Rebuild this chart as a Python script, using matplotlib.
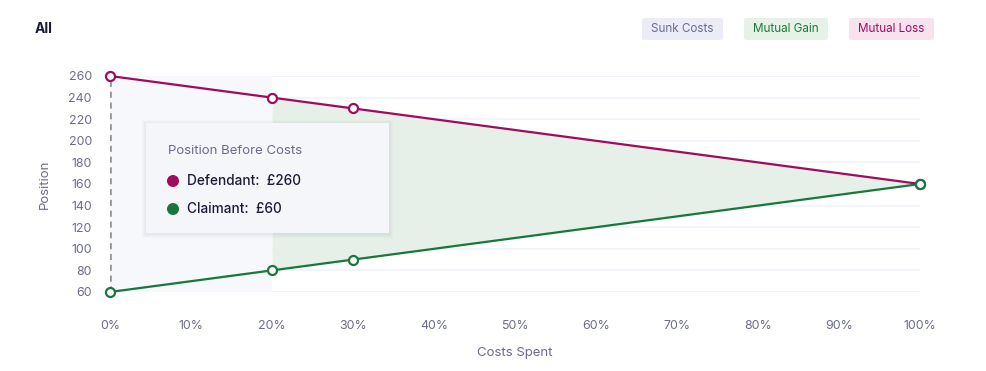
import matplotlib.pyplot as plt
from matplotlib.patches import FancyBboxPatch, Rectangle, Ellipse

plt.rcParams['font.family'] = ['Inter', 'DejaVu Sans']

# data
costs_spent = [0, 20, 30, 100]
defendant = [260, 240, 230, 160]
claimant = [60, 80, 90, 160]
y_ticks = [60, 80, 100, 120, 140, 160, 180, 200, 220, 240, 260]
x_ticks = [0, 10, 20, 30, 40, 50, 60, 70, 80, 90, 100]
sunk_end = 20
legend_items = ["Sunk Costs", "Mutual Gain", "Mutual Loss"]

W, H = 987, 371
MAGENTA = '#a10a5e'
GREEN = '#17783a'
LABEL = '#6b6b8c'
DARK = '#1c1b3a'

fig = plt.figure(figsize=(W / 100, H / 100), dpi=100)
ax = fig.add_axes([110 / W, (H - 292) / H, 810 / W, 216 / H])
ax.set_xlim(0, 100)
ax.set_ylim(60, 260)

for s in ax.spines.values():
    s.set_visible(False)
ax.set_yticks(y_ticks)
ax.set_xticks(x_ticks)
ax.set_xticklabels([f"{t}%" for t in x_ticks])
ax.tick_params(length=0, colors=LABEL, labelsize=8.9)
ax.tick_params(axis='y', pad=13)
ax.tick_params(axis='x', pad=20)
ax.grid(axis='y', color='#f1f2f8', linewidth=1.2)
ax.set_axisbelow(True)

# sunk costs block and mutual gain area
ax.add_patch(Rectangle((0, 60), sunk_end, 200, facecolor='#f7f8fb', edgecolor='none', zorder=1))
i0 = costs_spent.index(sunk_end)
ax.fill_between(costs_spent[i0:], claimant[i0:], defendant[i0:], color='#e6f0e8', linewidth=0, zorder=1)

ax.plot([0, 0], [claimant[0], defendant[0]], color='#939393', lw=1.9, ls=(0, (2.3, 1.8)), zorder=2)
ax.plot(costs_spent, defendant, color=MAGENTA, lw=1.6, marker='o', ms=6.5, mfc='white',
        mec=MAGENTA, mew=1.6, clip_on=False, zorder=3)
ax.plot(costs_spent, claimant, color=GREEN, lw=1.6, marker='o', ms=6.5, mfc='white',
        mec=GREEN, mew=1.6, clip_on=False, zorder=4)

ax.set_xlabel("Costs Spent", color=LABEL, fontsize=9.5, labelpad=11)
ax.set_ylabel("Position", color=LABEL, fontsize=9.5, labelpad=13)

fig.text(35 / W, 1 - 29 / H, "All", fontsize=10, fontweight='bold', color=DARK, va='center')

# legend chips
chips = [(642, 723, '#ebecf8', '#6b6b8c'), (744, 828, '#e6f1e8', '#1b7a37'), (849, 934, '#f6e3ee', '#a30a60')]
for label, (x0, x1, bg, fg) in zip(legend_items, chips):
    fig.patches.append(FancyBboxPatch((x0 / W, 1 - 40 / H), (x1 - x0) / W, 22 / H,
                                      boxstyle='round,pad=0,rounding_size=0.004',
                                      transform=fig.transFigure, facecolor=bg, edgecolor='none'))
    fig.text((x0 + x1) / 2 / W, 1 - 29.5 / H, label, color=fg, fontsize=8.4, ha='center', va='center')

# tooltip with soft shadow
for off in range(4, 0, -1):
    fig.patches.append(Rectangle(((146 - off) / W, 1 - (233 + off + 1) / H), (243 + 2 * off) / W,
                                 (110 + 2 * off) / H, transform=fig.transFigure,
                                 facecolor='#20204a', alpha=0.014, edgecolor='none', zorder=5))
fig.patches.append(Rectangle((146 / W, 1 - 233 / H), 243 / W, 110 / H, transform=fig.transFigure,
                             facecolor='#f5f6fa', edgecolor='none', zorder=6))
fig.text(168 / W, 1 - 151 / H, "Position Before Costs", color=LABEL, fontsize=9.5, va='center', zorder=7)
for y, c, txt in [(181, MAGENTA, f"Defendant:  £{defendant[0]}"), (209, GREEN, f"Claimant:  £{claimant[0]}")]:
    fig.patches.append(Ellipse((173 / W, 1 - y / H), 12 / W, 12 / H, transform=fig.transFigure,
                               facecolor=c, edgecolor='none', zorder=7))
    fig.text(187 / W, 1 - y / H, txt, color=DARK, fontsize=9.8, fontweight='medium', va='center', zorder=7)

fig.savefig('out.png', dpi=100)
